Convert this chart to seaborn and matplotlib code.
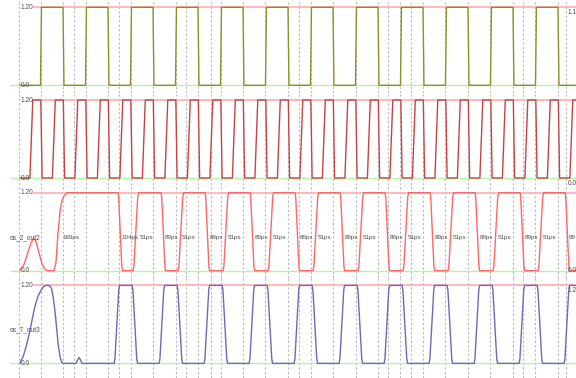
import matplotlib
matplotlib.use("Agg")
import matplotlib.pyplot as plt
import seaborn as sns

# time in ps (about 3.11 ps per screen pixel, 0 ps at the first cursor)
t_view = (-59, 1733)
t_first, t_last = 3, 1733
v_high = 1.2

# panel 1 - clock (olive)
clk_rise = [67, 207, 347, 487, 627, 767, 907, 1047, 1187, 1327, 1467, 1607]
clk_fall = [137, 277, 417, 557, 697, 837, 977, 1117, 1257, 1397, 1537, 1677]

# panel 2 - fast signal (red)
q_rise = [34, 104, 174, 244, 314, 384, 454, 524, 594, 664, 734, 804, 874,
          944, 1014, 1084, 1154, 1224, 1294, 1364, 1434, 1504, 1574, 1644, 1714]
q_fall = [68, 138, 208, 278, 348, 418, 488, 558, 628, 698, 768, 838, 908,
          978, 1048, 1118, 1188, 1258, 1328, 1398, 1468, 1538, 1608, 1678]

# panel 3 - os_2_out2
out2_head_t = [3, 16, 28, 37, 45, 53, 62, 72, 81, 90, 109, 115, 121, 128, 134, 140, 149]
out2_head_v = [0.0, 0.1, 0.28, 0.42, 0.5, 0.45, 0.28, 0.1, 0.02, 0.0, 0.0,
               0.12, 0.55, 0.92, 1.08, 1.15, 1.2]
out2_fall = [308, 442, 579, 719, 859, 999, 1139, 1279, 1419, 1559, 1699]
out2_rise = [355, 495, 635, 775, 915, 1055, 1195, 1335, 1475, 1615]

# panel 4 - os_7_out3
out3_head_t = [3, 14, 24, 34, 44, 52, 60, 68, 76, 84, 91, 97, 102, 107, 112,
               117, 122, 128, 133, 137, 177, 182, 187, 192, 196]
out3_head_v = [0.0, 0.12, 0.29, 0.5, 0.75, 0.92, 1.04, 1.12, 1.18, 1.2, 1.2,
               1.19, 1.14, 1.0, 0.81, 0.55, 0.29, 0.1, 0.02, 0.0, 0.0, 0.05,
               0.09, 0.05, 0.0]
out3_rise = [296, 436, 576, 716, 856, 996, 1136, 1276, 1416, 1556, 1696]
out3_fall = [352, 492, 632, 772, 912, 1052, 1192, 1332, 1472, 1612]

# measurement labels on os_2_out2 (the last one is clipped by the window)
meas_t = [134, 318, 375, 454, 507, 594, 650, 734, 790, 874, 930, 1014, 1070,
          1154, 1210, 1294, 1350, 1434, 1490, 1574, 1630, 1711]
meas_txt = ["169ps", "104ps", "51ps", "89ps", "51ps", "89ps", "51ps", "89ps",
            "51ps", "89ps", "51ps", "89ps", "51ps", "89ps", "51ps", "89ps",
            "51ps", "89ps", "51ps", "89ps", "51ps", "89"]

# cursor lines
cursor_t = [0, 67, 137, 171, 207, 277, 311, 347, 417, 487, 521, 557, 597, 627,
            697, 767, 837, 871, 907, 977, 1047, 1117, 1148, 1187, 1220, 1257,
            1327, 1397, 1467, 1537, 1568, 1607, 1677, 1702]

# value readouts at the right edge, clipped by the window
right_labels = ["1.1", "0.0", "0.0", "1.2"]
right_label_v = [1.12, -0.08, 0.0, 1.12]
names = [None, None, "os_2_out2", "os_7_out3"]

sharp = ([0, 1], [0, 1])
smooth = ([0, 0.15, 0.35, 0.5, 0.65, 0.85, 1], [0, 0.06, 0.3, 0.5, 0.7, 0.94, 1])


def build_wave(t0, v0, rises, falls, rise_w, fall_w, edge):
    events = sorted([(t, True) for t in rises] + [(t, False) for t in falls])
    ts, vs = [t0], [v0]
    for t, up in events:
        w = rise_w if up else fall_w
        for fx, fy in zip(*edge):
            ts.append(t + fx * w)
            vs.append(v_high * fy if up else v_high * (1 - fy))
    ts.append(t_last)
    vs.append(vs[-1])
    return ts, vs


clk_t, clk_v = build_wave(t_first, 0.0, clk_rise, clk_fall, 3, 3, sharp)
q_t, q_v = build_wave(t_first, 0.0, q_rise, q_fall, 9, 4, sharp)
o2_t, o2_v = build_wave(out2_head_t[-1], out2_head_v[-1], out2_rise, out2_fall, 17, 14, smooth)
o3_t, o3_v = build_wave(out3_head_t[-1], out3_head_v[-1], out3_rise, out3_fall, 17, 17, smooth)
o2_t, o2_v = out2_head_t + o2_t, out2_head_v + o2_v
o3_t, o3_v = out3_head_t + o3_t, out3_head_v + o3_v

waves = [(clk_t, clk_v, "#8f8f2a"), (q_t, q_v, "#c44444"),
         (o2_t, o2_v, "#ff6666"), (o3_t, o3_v, "#6a6ab8")]

sns.set_theme(style="white")
plt.rcParams["font.family"] = ["Liberation Sans", "DejaVu Sans"]

fig = plt.figure(figsize=(5.76, 3.78), dpi=100)
W, H = 576, 378
panel_px = 92.7
ref_top_px = 7.3
v_per_px = 1.2 / 78

for k, (ts, vs, col) in enumerate(waves):
    top = panel_px * k
    height = panel_px if k < 3 else H - top
    ax = fig.add_axes([0, 1 - (top + height) / H, 1, height / H])
    ytop = v_high + ref_top_px * v_per_px
    ax.set_ylim(ytop - height * v_per_px, ytop)
    ax.set_xlim(*t_view)
    ax.set_axis_off()

    for c in cursor_t:
        ax.axvline(c, color="#b8b8b8", lw=0.8, ls=(0, (2, 2)), zorder=1)
    ax.hlines(v_high, 44, t_view[1], color="#ffb4b4", lw=1.3, zorder=2)
    ax.hlines(0.0, -28, t_view[1], color="#b8f0b0", lw=1.0, zorder=2)

    sns.lineplot(x=ts, y=vs, ax=ax, color=col, lw=1.0, sort=False,
                 estimator=None, zorder=3)

    ax.text(6, v_high, "1.20", fontsize=4.8, color="#505050", va="center", zorder=4)
    ax.text(6, 0.0, "0.0", fontsize=4.8, color="#505050", va="center", zorder=4)
    ax.text(1706, right_label_v[k], right_labels[k], fontsize=4.8,
            color="#505050", va="center", zorder=4)
    if names[k]:
        ax.text(-28, 0.51, names[k], fontsize=4.8, color="#505050",
                va="center", zorder=4)
    if k == 2:
        for t, s in zip(meas_t, meas_txt):
            ax.text(t, 0.51, s, fontsize=4.5, color="#505050", va="center", zorder=4)

fig.savefig("out.png", dpi=100)
